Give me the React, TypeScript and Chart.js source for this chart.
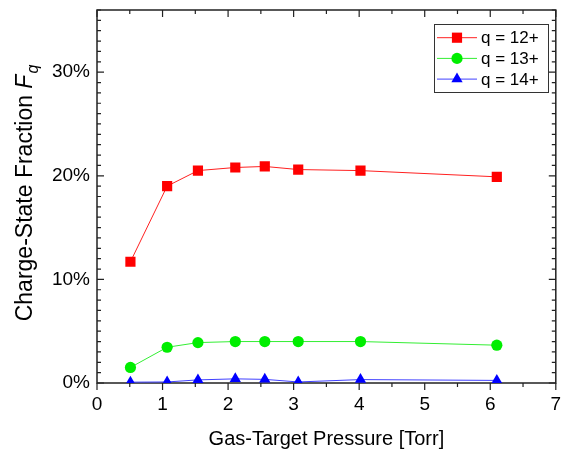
import React, { useEffect, useRef } from "react";
import { Chart, registerables } from "chart.js";

Chart.register(...registerables);

const pressures = [0.51, 1.07, 1.54, 2.11, 2.56, 3.07, 4.02, 6.1];
const q12 = [11.7, 19.0, 20.5, 20.8, 20.9, 20.6, 20.5, 19.9];
const q13 = [1.5, 3.45, 3.9, 4.0, 4.0, 4.0, 4.0, 3.65];
const q14 = [0.08, 0.1, 0.3, 0.4, 0.35, 0.1, 0.33, 0.25];

const seriesLabels = ["q = 12+", "q = 13+", "q = 14+"];
const xTickValues = [0, 1, 2, 3, 4, 5, 6, 7];
const yTickValues = [0, 10, 20, 30];
const xTitle = "Gas-Target Pressure [Torr]";
const yTitleMain = "Charge-State Fraction ";
const yTitleVar = "F";
const yTitleSub = "q";

const FONT = "'Liberation Sans', Arial, sans-serif";

const axisPlugin = {
  id: "axisFrame",
  beforeDatasetsDraw(chart: any) {
    const { ctx, chartArea: a, scales } = chart;
    const x = scales.x;
    const y = scales.y;
    ctx.save();
    ctx.strokeStyle = "#222";
    ctx.lineWidth = 1.5;
    ctx.strokeRect(a.left, a.top, a.right - a.left, a.bottom - a.top);
    ctx.lineWidth = 1.2;
    ctx.beginPath();
    for (let i = 0; i <= 14; i++) {
      const v = x.min + i * 0.5;
      const px = x.getPixelForValue(v);
      const major = i % 2 === 0;
      const len = major ? 7 : 4;
      ctx.moveTo(px, a.bottom);
      ctx.lineTo(px, a.bottom + len);
      ctx.moveTo(px, a.top);
      ctx.lineTo(px, a.top + len);
    }
    for (let i = 0; i <= 36; i++) {
      const py = y.getPixelForValue(i);
      const major = i % 10 === 0;
      const len = major ? 7 : 4;
      ctx.moveTo(a.left, py);
      ctx.lineTo(a.left + len, py);
      ctx.moveTo(a.right, py);
      ctx.lineTo(a.right - len, py);
    }
    ctx.stroke();

    ctx.fillStyle = "#000";
    ctx.font = `19px ${FONT}`;
    ctx.textAlign = "center";
    ctx.textBaseline = "top";
    x.ticks.forEach((t: any) => {
      ctx.fillText(String(t.value), x.getPixelForValue(t.value), a.bottom + 12);
    });
    ctx.textAlign = "right";
    ctx.textBaseline = "middle";
    y.ticks.forEach((t: any) => {
      ctx.fillText(t.value + "%", a.left - 7, y.getPixelForValue(t.value));
    });

    ctx.font = `20px ${FONT}`;
    ctx.textAlign = "center";
    ctx.textBaseline = "alphabetic";
    ctx.fillText(xTitle, (a.left + a.right) / 2, 445);

    ctx.save();
    ctx.translate(32, 193);
    ctx.rotate(-Math.PI / 2);
    ctx.textAlign = "left";
    const mainFont = `23px ${FONT}`;
    const varFont = `italic 23px ${FONT}`;
    const subFont = `italic 16px ${FONT}`;
    ctx.font = mainFont;
    const w1 = ctx.measureText(yTitleMain).width;
    ctx.font = varFont;
    const w2 = ctx.measureText(yTitleVar).width;
    ctx.font = subFont;
    const w3 = ctx.measureText(yTitleSub).width;
    const total = w1 + w2 + w3 + 1;
    let cx = -total / 2;
    ctx.font = mainFont;
    ctx.fillText(yTitleMain, cx, 0);
    cx += w1;
    ctx.font = varFont;
    ctx.fillText(yTitleVar, cx, 0);
    cx += w2 + 1;
    ctx.font = subFont;
    ctx.fillText(yTitleSub, cx, 6);
    ctx.restore();

    ctx.restore();
  },
  afterDatasetsDraw(chart: any) {
    const { ctx } = chart;
    ctx.save();
    const bx = 434, by = 24, bw = 114, bh = 68;
    ctx.fillStyle = "#fff";
    ctx.fillRect(bx, by, bw, bh);
    ctx.strokeStyle = "#333";
    ctx.lineWidth = 1;
    ctx.strokeRect(bx + 0.5, by + 0.5, bw, bh);
    chart.data.datasets.forEach((ds: any, i: number) => {
      const ry = 37.7 + i * 20.7;
      ctx.strokeStyle = ds.borderColor;
      ctx.lineWidth = 1;
      ctx.beginPath();
      ctx.moveTo(437, ry);
      ctx.lineTo(477, ry);
      ctx.stroke();
      ctx.fillStyle = ds.pointBackgroundColor;
      ctx.beginPath();
      const r = ds.pointRadius;
      if (ds.pointStyle === "rect") {
        const s = Math.SQRT1_2 * r;
        ctx.rect(457 - s, ry - s, 2 * s, 2 * s);
      } else if (ds.pointStyle === "circle") {
        ctx.arc(457, ry, r, 0, Math.PI * 2);
      } else {
        ctx.moveTo(457, ry - r);
        ctx.lineTo(457 + 0.866 * r, ry + 0.5 * r);
        ctx.lineTo(457 - 0.866 * r, ry + 0.5 * r);
        ctx.closePath();
      }
      ctx.fill();
      ctx.fillStyle = "#000";
      ctx.font = `17px ${FONT}`;
      ctx.textAlign = "left";
      ctx.textBaseline = "middle";
      ctx.fillText(ds.label, 481, ry + 1);
    });
    ctx.restore();
  },
};

export default function App() {
  const ref = useRef<HTMLCanvasElement>(null);
  useEffect(() => {
    if (!ref.current) return;
    const mk = (vals: number[]) => pressures.map((p, i) => ({ x: p, y: vals[i] }));
    const chart = new Chart(ref.current, {
      type: "scatter",
      data: {
        datasets: [
          {
            label: seriesLabels[0],
            data: mk(q12),
            showLine: true,
            borderColor: "#ff2020",
            borderWidth: 1,
            pointStyle: "rect",
            pointRadius: 7.2,
            pointBackgroundColor: "#ff0000",
            pointBorderWidth: 0,
          },
          {
            label: seriesLabels[1],
            data: mk(q13),
            showLine: true,
            borderColor: "#33ee33",
            borderWidth: 1,
            pointStyle: "circle",
            pointRadius: 5.6,
            pointBackgroundColor: "#00ee00",
            pointBorderWidth: 0,
          },
          {
            label: seriesLabels[2],
            data: mk(q14),
            showLine: true,
            borderColor: "#4040ff",
            borderWidth: 1,
            pointStyle: "triangle",
            pointRadius: 6.5,
            pointBackgroundColor: "#0000ff",
            pointBorderWidth: 0,
          },
        ] as any,
      },
      options: {
        animation: false,
        responsive: false,
        layout: { padding: { left: 0, right: 3, top: 10, bottom: 0 } },
        plugins: { legend: { display: false }, tooltip: { enabled: false } },
        scales: {
          x: {
            type: "linear",
            min: 0,
            max: 7,
            grid: { display: false, drawTicks: false },
            border: { display: false },
            ticks: { display: false, stepSize: 1 },
            afterBuildTicks: (s: any) => {
              s.ticks = xTickValues.map((v) => ({ value: v }));
            },
            afterFit: (s: any) => {
              s.height = 68;
            },
          },
          y: {
            type: "linear",
            min: 0,
            max: 36,
            grid: { display: false, drawTicks: false },
            border: { display: false },
            ticks: { display: false },
            afterBuildTicks: (s: any) => {
              s.ticks = yTickValues.map((v) => ({ value: v }));
            },
            afterFit: (s: any) => {
              s.width = 97;
            },
          },
        },
      } as any,
      plugins: [axisPlugin],
    });
    return () => chart.destroy();
  }, []);
  return (
    <div style={{ position: "fixed", left: 0, top: 0, width: 563, height: 451, background: "#fff" }}>
      <canvas ref={ref} width={563} height={451} style={{ width: 563, height: 451, display: "block" }} />
    </div>
  );
}
